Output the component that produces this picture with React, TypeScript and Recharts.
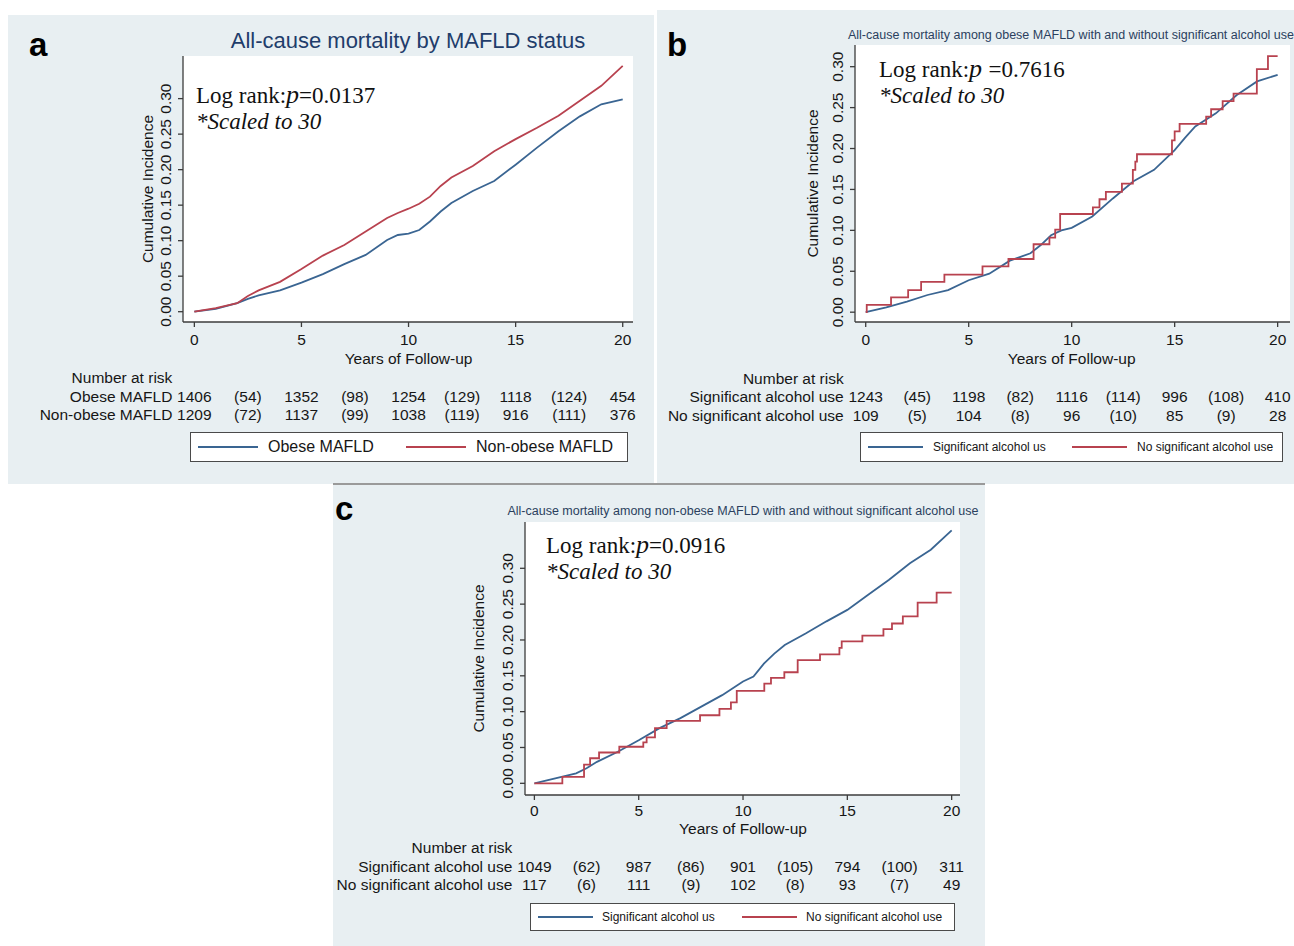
import React from 'react';
import { LineChart, Line, XAxis, YAxis, CartesianGrid, Legend } from 'recharts';

const SANS = '"Liberation Sans", Arial, Helvetica, sans-serif';
const SERIF = '"Liberation Serif", "Times New Roman", serif';
const BLUE = '#3a6592';
const RED = '#b8424f';
const PANEL_BG = '#e8eff2';
const AXIS = '#3c3c3c';
const INK = '#161616';

// ---------- shared ticks ----------
const xTickValues = [0, 5, 10, 15, 20];
const tableTicks = [0, 2.5, 5, 7.5, 10, 12.5, 15, 17.5, 20];
const yTicks = [0, 0.05, 0.1, 0.15, 0.2, 0.25, 0.3];

// ---------- Panel a: obese vs non-obese MAFLD ----------
const aTimes = [0, 1, 2, 2.5, 3, 4, 5, 6, 7, 8, 9, 9.5, 10, 10.5, 11, 11.5, 12, 13, 14, 15, 16, 17, 18, 19, 20];
const aObese = [0, 0.004, 0.012, 0.018, 0.023, 0.03, 0.041, 0.053, 0.067, 0.08, 0.101, 0.108, 0.11, 0.115, 0.127, 0.141, 0.153, 0.17, 0.184, 0.207, 0.231, 0.254, 0.275, 0.292, 0.299];
const aNonObese = [0, 0.005, 0.012, 0.022, 0.03, 0.042, 0.06, 0.079, 0.094, 0.113, 0.132, 0.139, 0.145, 0.152, 0.162, 0.177, 0.189, 0.205, 0.226, 0.243, 0.259, 0.276, 0.297, 0.318, 0.346];
const aAtRiskObese = [1406, 1352, 1254, 1118, 454];
const aEventsObese = [54, 98, 129, 124];
const aAtRiskNonObese = [1209, 1137, 1038, 916, 376];
const aEventsNonObese = [72, 99, 119, 111];

// ---------- Panel b: obese MAFLD by alcohol use ----------
const bSigTimes = [0, 1, 2, 3, 4, 5, 6, 7, 8, 8.5, 9, 9.5, 10, 11, 12, 13, 14, 15, 15.5, 16, 17, 18, 19, 20];
const bSigInc = [0, 0.006, 0.013, 0.021, 0.027, 0.039, 0.047, 0.063, 0.072, 0.082, 0.094, 0.1, 0.103, 0.117, 0.139, 0.16, 0.174, 0.198, 0.213, 0.227, 0.243, 0.265, 0.282, 0.29];
const bNoSigTimes = [0, 0.05, 1.23, 2.06, 2.69, 3.82, 5.67, 6.93, 8.15, 8.92, 9.2, 9.44, 11.03, 11.35, 11.66, 12.44, 12.97, 13.09, 13.17, 14.87, 15.0, 15.24, 16.53, 16.77, 17.33, 17.86, 18.99, 19.53, 20];
const bNoSigInc = [0, 0.009, 0.018, 0.027, 0.037, 0.046, 0.056, 0.065, 0.083, 0.091, 0.101, 0.12, 0.128, 0.138, 0.147, 0.157, 0.174, 0.184, 0.193, 0.21, 0.221, 0.23, 0.239, 0.248, 0.258, 0.267, 0.297, 0.313, 0.313];
const bAtRiskSig = [1243, 1198, 1116, 996, 410];
const bEventsSig = [45, 82, 114, 108];
const bAtRiskNoSig = [109, 104, 96, 85, 28];
const bEventsNoSig = [5, 8, 10, 9];

// ---------- Panel c: non-obese MAFLD by alcohol use ----------
const cSigTimes = [0, 1, 2, 2.5, 3, 4, 5, 6, 7, 8, 9, 10, 10.5, 11, 11.5, 12, 13, 14, 15, 16, 17, 18, 19, 20];
const cSigInc = [0, 0.007, 0.014, 0.021, 0.03, 0.044, 0.06, 0.077, 0.091, 0.107, 0.123, 0.142, 0.149, 0.167, 0.181, 0.193, 0.209, 0.226, 0.242, 0.263, 0.284, 0.307, 0.326, 0.353];
const cNoSigTimes = [0, 1.34, 2.38, 2.67, 3.1, 4.07, 5.22, 5.38, 5.78, 6.34, 7.94, 8.87, 9.42, 9.7, 11.02, 11.34, 11.98, 12.62, 13.69, 14.62, 14.73, 15.72, 16.73, 17.14, 17.66, 18.37, 19.28, 20];
const cNoSigInc = [0, 0.009, 0.026, 0.035, 0.043, 0.051, 0.057, 0.064, 0.077, 0.087, 0.095, 0.104, 0.113, 0.129, 0.139, 0.147, 0.155, 0.172, 0.18, 0.189, 0.198, 0.206, 0.215, 0.223, 0.233, 0.252, 0.266, 0.266];
const cAtRiskSig = [1049, 987, 901, 794, 311];
const cEventsSig = [62, 86, 105, 100];
const cAtRiskNoSig = [117, 111, 102, 93, 49];
const cEventsNoSig = [6, 9, 8, 7];

const toPts = (ts: number[], vs: number[]) => ts.map((t, i) => ({ t, v: vs[i] }));

type Row = { label: string; atRisk: number[]; events: number[] };
type SeriesDef = { name: string; color: string; type: 'linear' | 'stepAfter'; data: { t: number; v: number }[] };
type PanelCfg = {
  left: number; top: number; width: number; height: number;
  margin: { top: number; right: number; bottom: number; left: number };
  xDomain: [number, number]; yDomain: [number, number];
  offsets: number[]; yLabelDist: number;
  rows: Row[]; series: SeriesDef[];
  legend: { left: number; top: number; width: number; height: number; col: number; pad: number; line: number; gap: number; font: number };
};

const txt = { fontFamily: SANS, fontSize: 15.5, fill: INK } as const;

function makeTableTick(cfg: PanelCfg) {
  return (p: any) => {
    const v = p.payload.value as number;
    const idx = tableTicks.indexOf(v);
    const x = p.x as number;
    const ay = (p.y as number) - 6;
    const o = cfg.offsets;
    const parts: React.ReactNode[] = [];
    if (idx % 2 === 0) {
      parts.push(<line key="tl" x1={x} x2={x} y1={ay} y2={ay + 5} stroke={AXIS} strokeWidth={1.3} />);
      if (xTickValues.includes(v)) {
        parts.push(<text key="tv" x={x} y={ay + o[0]} dy="0.36em" textAnchor="middle" {...txt}>{v}</text>);
      }
    }
    if (v === 10) {
      parts.push(<text key="xt" x={x} y={ay + o[1]} dy="0.36em" textAnchor="middle" {...txt}>Years of Follow-up</text>);
    }
    if (idx === 0) {
      parts.push(<text key="nr" x={x - 22} y={ay + o[2]} dy="0.36em" textAnchor="end" {...txt}>Number at risk</text>);
      cfg.rows.forEach((r, ri) => {
        parts.push(<text key={'rl' + ri} x={x - 22} y={ay + o[3 + ri]} dy="0.36em" textAnchor="end" {...txt}>{r.label}</text>);
      });
    }
    cfg.rows.forEach((r, ri) => {
      const val = idx % 2 === 0 ? String(r.atRisk[idx / 2]) : `(${r.events[(idx - 1) / 2]})`;
      parts.push(<text key={'rv' + ri} x={x} y={ay + o[3 + ri]} dy="0.36em" textAnchor="middle" {...txt}>{val}</text>);
    });
    return <g>{parts}</g>;
  };
}

const renderYTick = (p: any) => {
  const bx = (p.x as number) - 7;
  const y = p.y as number;
  return (
    <text x={bx} y={y} transform={`rotate(-90 ${bx} ${y})`} textAnchor="middle" {...txt}>
      {(p.payload.value as number).toFixed(2)}
    </text>
  );
};

function makeYLabel(cfg: PanelCfg) {
  return (lp: any) => {
    const vb = lp.viewBox || { x: 0, y: cfg.margin.top, width: 40, height: 0 };
    const cx = vb.x + vb.width - cfg.yLabelDist;
    const cy = vb.y + vb.height / 2;
    return (
      <text x={cx} y={cy} transform={`rotate(-90 ${cx} ${cy})`} textAnchor="middle" {...txt}>
        Cumulative Incidence
      </text>
    );
  };
}

function makeLegend(cfg: PanelCfg) {
  const L = cfg.legend;
  const order = cfg.series.map((s) => s.name);
  return (lp: any) => {
    const payload = ([...(lp.payload || [])] as any[]).sort((a, b) => order.indexOf(a.value) - order.indexOf(b.value));
    return (
      <div style={{ width: L.width, height: L.height, boxSizing: 'border-box', border: '1px solid #4a4a4a', background: '#fff', display: 'flex', alignItems: 'center', paddingLeft: L.pad }}>
        {payload.map((e, i) => (
          <div key={i} style={{ width: L.col, display: 'flex', alignItems: 'center', flex: 'none' }}>
            <div style={{ width: L.line, height: 0, borderTop: `2px solid ${e.color}`, flex: 'none' }} />
            <span style={{ marginLeft: L.gap, fontFamily: SANS, fontSize: L.font, color: INK, whiteSpace: 'nowrap' }}>{e.value}</span>
          </div>
        ))}
      </div>
    );
  };
}

function PanelChart({ cfg }: { cfg: PanelCfg }) {
  return (
    <div style={{ position: 'absolute', left: cfg.left, top: cfg.top, width: cfg.width, height: cfg.height, background: PANEL_BG, overflow: 'hidden' }}>
      <LineChart width={cfg.width} height={cfg.height} margin={cfg.margin}>
        <CartesianGrid horizontal={false} vertical={false} fill="#ffffff" stroke="none" />
        <XAxis
          type="number"
          dataKey="t"
          domain={cfg.xDomain}
          allowDataOverflow
          ticks={tableTicks}
          interval={0}
          height={30}
          tickSize={6}
          tickMargin={0}
          tickLine={false}
          axisLine={{ stroke: AXIS, strokeWidth: 1.3 }}
          tick={makeTableTick(cfg)}
        />
        <YAxis
          type="number"
          domain={cfg.yDomain}
          allowDataOverflow
          ticks={yTicks}
          interval={0}
          width={40}
          tickSize={5}
          tickMargin={0}
          tickLine={{ stroke: AXIS, strokeWidth: 1.3 }}
          axisLine={{ stroke: AXIS, strokeWidth: 1.3 }}
          tick={renderYTick}
          label={makeYLabel(cfg)}
        />
        <Legend
          layout="horizontal"
          verticalAlign="middle"
          align="center"
          wrapperStyle={{ position: 'absolute', left: cfg.legend.left, top: cfg.legend.top, width: cfg.legend.width, height: cfg.legend.height, margin: 0, padding: 0 }}
          content={makeLegend(cfg)}
        />
        {cfg.series.map((s) => (
          <Line
            key={s.name}
            data={s.data}
            dataKey="v"
            name={s.name}
            type={s.type}
            stroke={s.color}
            strokeWidth={1.8}
            dot={false}
            activeDot={false}
            isAnimationActive={false}
          />
        ))}
      </LineChart>
    </div>
  );
}

const panelA: PanelCfg = {
  left: 8, top: 15, width: 646, height: 469,
  margin: { top: 41, right: 21, bottom: 132, left: 135 },
  xDomain: [-0.53, 20.48], yDomain: [-0.0145, 0.36],
  offsets: [17, 36, 55, 74, 92], yLabelDist: 30,
  rows: [
    { label: 'Obese MAFLD', atRisk: aAtRiskObese, events: aEventsObese },
    { label: 'Non-obese MAFLD', atRisk: aAtRiskNonObese, events: aEventsNonObese },
  ],
  series: [
    { name: 'Obese MAFLD', color: BLUE, type: 'linear', data: toPts(aTimes, aObese) },
    { name: 'Non-obese MAFLD', color: RED, type: 'linear', data: toPts(aTimes, aNonObese) },
  ],
  legend: { left: 182, top: 417, width: 438, height: 30, col: 208, pad: 7, line: 60, gap: 10, font: 16 },
};

const panelB: PanelCfg = {
  left: 657, top: 10, width: 637, height: 474,
  margin: { top: 35, right: 4, bottom: 132, left: 158 },
  xDomain: [-0.52, 20.6], yDomain: [-0.012, 0.3265],
  offsets: [17, 36, 56, 74, 93], yLabelDist: 37,
  rows: [
    { label: 'Significant alcohol use', atRisk: bAtRiskSig, events: bEventsSig },
    { label: 'No significant alcohol use', atRisk: bAtRiskNoSig, events: bEventsNoSig },
  ],
  series: [
    { name: 'Significant alcohol us', color: BLUE, type: 'linear', data: toPts(bSigTimes, bSigInc) },
    { name: 'No significant alcohol use', color: RED, type: 'stepAfter', data: toPts(bNoSigTimes, bNoSigInc) },
  ],
  legend: { left: 203, top: 422, width: 423, height: 30, col: 204, pad: 7, line: 55, gap: 10, font: 12 },
};

const panelC: PanelCfg = {
  left: 333, top: 484, width: 652, height: 462,
  margin: { top: 38, right: 25, bottom: 121, left: 152 },
  xDomain: [-0.45, 20.4], yDomain: [-0.0163, 0.3646],
  offsets: [15, 33, 52, 71, 89], yLabelDist: 41,
  rows: [
    { label: 'Significant alcohol use', atRisk: cAtRiskSig, events: cEventsSig },
    { label: 'No significant alcohol use', atRisk: cAtRiskNoSig, events: cEventsNoSig },
  ],
  series: [
    { name: 'Significant alcohol us', color: BLUE, type: 'linear', data: toPts(cSigTimes, cSigInc) },
    { name: 'No significant alcohol use', color: RED, type: 'stepAfter', data: toPts(cNoSigTimes, cNoSigInc) },
  ],
  legend: { left: 197, top: 419, width: 425, height: 28, col: 204, pad: 7, line: 55, gap: 9, font: 12 },
};

function Stat({ x, y, p, sp }: { x: number; y: number; p: string; sp?: boolean }) {
  return (
    <g fontFamily={SERIF} fill="#111">
      <text x={x} y={y} fontSize={23}>
        <tspan>Log rank:</tspan>
        <tspan fontStyle="italic" fontSize={26}>{sp ? 'p ' : 'p'}</tspan>
        <tspan>={p}</tspan>
      </text>
      <text x={x} y={y + 26} fontSize={23} fontStyle="italic">*Scaled to 30</text>
    </g>
  );
}

export default function App() {
  return (
    <div style={{ position: 'absolute', left: 0, top: 0, width: 1294, height: 946, overflow: 'hidden', background: '#fff' }}>
      <PanelChart cfg={panelA} />
      <PanelChart cfg={panelB} />
      <PanelChart cfg={panelC} />
      <div style={{ position: 'absolute', left: 333, top: 483, width: 652, height: 2, background: '#9a9a9a' }} />
      <svg width={1294} height={946} style={{ position: 'absolute', left: 0, top: 0, pointerEvents: 'none' }}>
        <g fontFamily={SANS} fontWeight="bold" fontSize={33} fill="#000">
          <text x={29} y={56}>a</text>
          <text x={667} y={56}>b</text>
          <text x={335} y={520}>c</text>
        </g>
        <text x={408} y={48} textAnchor="middle" fontFamily={SANS} fontSize={22} fill="#1f3d6b">All-cause mortality by MAFLD status</text>
        <text x={1071} y={39} textAnchor="middle" fontFamily={SANS} fontSize={12.5} fill="#2b3f5e">All-cause mortality among obese MAFLD with and without significant alcohol use</text>
        <text x={743} y={515} textAnchor="middle" fontFamily={SANS} fontSize={12.5} fill="#2b3f5e">All-cause mortality among non-obese MAFLD with and without significant alcohol use</text>
        <Stat x={196} y={103} p="0.0137" />
        <Stat x={879} y={77} p="0.7616" sp />
        <Stat x={546} y={553} p="0.0916" />
      </svg>
    </div>
  );
}
